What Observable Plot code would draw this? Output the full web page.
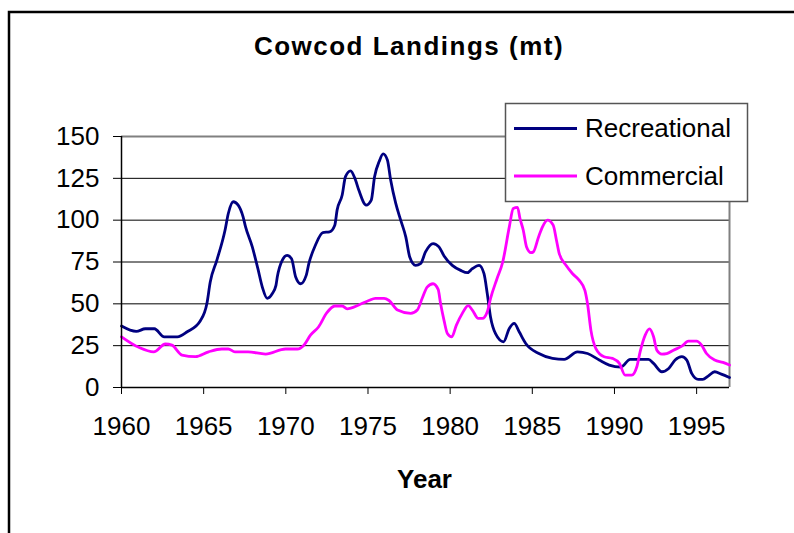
<!DOCTYPE html>
<html>
<head>
<meta charset="utf-8">
<script src="https://cdn.jsdelivr.net/npm/d3@7"></script>
<script src="https://cdn.jsdelivr.net/npm/@observablehq/plot@0.6"></script>
<style>
  body { margin: 0; background: #fff; }
  #wrap { position: relative; width: 794px; height: 533px; overflow: hidden; font-family: "Liberation Sans", Arial, sans-serif; }
  #chart { position: absolute; left: 0; top: 0; }
  #overlay { position: absolute; left: 0; top: 0; pointer-events: none; }
</style>
</head>
<body>
<div id="wrap">
  <div id="chart"></div>
  <svg id="overlay" width="794" height="533"></svg>
</div>
<script>
// ---- data ----
const titleText = "Cowcod Landings (mt)";
const xLabel = "Year";
const seriesNames = ["Recreational", "Commercial"];
const seriesColors = ["#000080", "#FF00FF"];
const xTicks = [1960, 1965, 1970, 1975, 1980, 1985, 1990, 1995];
const yTicks = [0, 25, 50, 75, 100, 125, 150];

const recYears = [1960.0, 1960.9, 1961.45, 1962.0, 1962.6, 1963.4, 1964.0, 1964.8, 1965.2, 1965.4,
  1965.8, 1966.3, 1966.5, 1966.8, 1967.1, 1967.4, 1967.55, 1967.96, 1968.3, 1968.57,
  1968.87, 1969.17, 1969.4, 1969.48, 1969.78, 1970.08, 1970.35, 1970.6, 1970.9, 1971.24,
  1971.4, 1971.8, 1972.25, 1972.66, 1972.98, 1973.12, 1973.43, 1973.63, 1973.94, 1974.24,
  1974.44, 1974.89, 1975.2, 1975.4, 1975.68, 1975.92, 1976.18, 1976.38, 1976.69, 1976.99,
  1977.3, 1977.54, 1977.9, 1978.2, 1978.5, 1978.96, 1979.32, 1979.63, 1980.13, 1980.64,
  1981.05, 1981.35, 1981.76, 1982.06, 1982.26, 1982.46, 1982.77, 1983.25, 1983.6, 1983.9,
  1984.2, 1984.6, 1985.4, 1986.23, 1986.94, 1987.75, 1988.36, 1989.07, 1989.68, 1990.39,
  1990.96, 1992.07, 1992.38, 1992.88, 1993.3, 1993.69, 1994.1, 1994.4, 1994.7, 1995.1,
  1995.37, 1995.7, 1996.1, 1996.5, 1997.0];
const recValues = [36.7, 33.5, 35.1, 35.1, 30.3, 30.3, 33.3, 39.9, 50.3, 63,
  76, 94, 104, 111, 109, 102, 96, 84, 71, 60,
  53.3, 56, 61, 66, 76, 79, 77, 66, 62, 67,
  74, 85, 92.6, 93, 97, 106, 115, 126, 129.5, 124,
  118, 109, 112, 126, 135, 139.6, 136, 124, 110, 100,
  90, 78, 73, 74, 81, 86, 84, 78.6, 73, 70,
  68.6, 71, 73, 68, 56, 42, 32, 27.3, 35.3, 38.3,
  33.3, 26.3, 20.3, 17.4, 16.8, 21.3, 20.3, 16.4, 13.4, 12.2,
  16.8, 16.8, 14.4, 9.4, 11.4, 16.4, 18.4, 16.4, 8.4, 4.8,
  4.8, 6.8, 9.4, 8, 6];

const comYears = [1960.0, 1961.05, 1961.96, 1962.67, 1963.07, 1963.68, 1964.5, 1965.3, 1966.1, 1966.5,
  1966.9, 1967.7, 1968.77, 1969.98, 1970.7, 1971.1, 1971.5, 1972.0, 1972.5, 1972.98,
  1973.43, 1973.73, 1974.44, 1975.05, 1975.45, 1975.98, 1976.28, 1976.8, 1977.6, 1978.0,
  1978.3, 1978.6, 1978.96, 1979.27, 1979.42, 1979.63, 1979.83, 1980.1, 1980.38, 1980.74,
  1981.1, 1981.35, 1981.71, 1981.96, 1982.26, 1982.46, 1982.85, 1983.2, 1983.6, 1983.84,
  1984.1, 1984.25, 1984.45, 1984.65, 1984.92, 1985.06, 1985.38, 1985.62, 1985.93, 1986.27,
  1986.47, 1986.64, 1987.05, 1987.45, 1987.86, 1988.2, 1988.36, 1988.57, 1988.87, 1989.37,
  1989.88, 1990.3, 1990.65, 1991.05, 1991.36, 1991.56, 1991.87, 1992.13, 1992.38, 1992.58,
  1992.88, 1993.18, 1993.59, 1994.1, 1994.5, 1995.0, 1995.3, 1995.6, 1996.1, 1996.6,
  1997.0];
const comValues = [30.3, 24, 21.3, 26, 25.3, 19.4, 18.4, 21.3, 23, 23,
  21.3, 21.3, 20, 23, 23, 25.3, 31.3, 36.3, 44.7, 48.7,
  48.7, 47, 49.3, 52, 53.3, 53.3, 52, 46.3, 44.3, 46.3,
  53.3, 60, 62, 58.6, 50, 40, 32.3, 30.3, 37.3, 44.3,
  48.9, 46.3, 41.3, 41.3, 45.3, 53.3, 65, 75, 96, 107,
  107.7, 101, 94, 84, 80.6, 81, 90, 96, 100, 97,
  88, 80, 73, 68, 64, 58, 50, 34, 23.3, 18.4,
  17.4, 14.4, 7.4, 7.4, 12.4, 21.3, 31.3, 35, 30.3, 22.3,
  20, 20.3, 22.3, 24.7, 27.7, 27.7, 25.3, 20.3, 16.4, 15,
  13.4];

// ---- build tables ----
const rec = recYears.map((y, i) => ({year: y, value: recValues[i]}));
const com = comYears.map((y, i) => ({year: y, value: comValues[i]}));

const font = "'Liberation Sans', Arial, sans-serif";

const plot = Plot.plot({
  width: 794,
  height: 533,
  marginLeft: 121,
  marginRight: 65,
  marginTop: 136,
  marginBottom: 146,
  style: {fontFamily: font, fontSize: "26px", color: "#000", background: "transparent"},
  x: {domain: [1960, 1997]},
  y: {domain: [0, 150]},
  marks: [
    Plot.gridY([25, 50, 75, 100, 125], {stroke: "#000", strokeOpacity: 1, strokeWidth: 1}),
    Plot.ruleY([150], {stroke: "#808080", strokeWidth: 2}),
    Plot.ruleX([1997], {stroke: "#808080", strokeWidth: 2}),
    Plot.line(rec, {x: "year", y: "value", stroke: seriesColors[0], strokeWidth: 2.8, curve: "monotone-x"}),
    Plot.line(com, {x: "year", y: "value", stroke: seriesColors[1], strokeWidth: 2.8, curve: "monotone-x"}),
    Plot.ruleX([1960], {stroke: "#000", strokeWidth: 1.5}),
    Plot.ruleY([0], {stroke: "#000", strokeWidth: 1.5}),
    Plot.axisY({ticks: yTicks, tickSize: 8, tickPadding: 14, fontSize: 26, label: null, tickFormat: d => String(d)}),
    Plot.axisX({ticks: xTicks, tickSize: 7, tickPadding: 22, fontSize: 26, label: null, tickFormat: d => String(d)})
  ]
});
document.getElementById("chart").appendChild(plot);

// ---- overlay: frame, title, axis title, legend ----
const ov = d3.select("#overlay");
ov.append("path").attr("d", "M9,540 V12 H800").attr("fill", "none").attr("stroke", "#000").attr("stroke-width", 2.5);
ov.append("text").attr("x", 409).attr("y", 55).attr("text-anchor", "middle")
  .attr("font-family", font).attr("font-weight", "bold").attr("font-size", 26).attr("letter-spacing", 1.5)
  .text(titleText);
ov.append("text").attr("x", 424.5).attr("y", 488).attr("text-anchor", "middle")
  .attr("font-family", font).attr("font-weight", "bold").attr("font-size", 26)
  .text(xLabel);
const lg = ov.append("g");
lg.append("rect").attr("x", 505.5).attr("y", 103.5).attr("width", 242).attr("height", 98)
  .attr("fill", "#fff").attr("stroke", "#555").attr("stroke-width", 1.5);
const lgY = [128.5, 176];
const lgBase = [137, 185];
seriesNames.forEach((n, i) => {
  lg.append("line").attr("x1", 514).attr("x2", 577).attr("y1", lgY[i]).attr("y2", lgY[i])
    .attr("stroke", seriesColors[i]).attr("stroke-width", 3);
  lg.append("text").attr("x", 585).attr("y", lgBase[i]).attr("font-family", font).attr("font-size", 26)
    .text(n);
});
</script>
</body>
</html>
